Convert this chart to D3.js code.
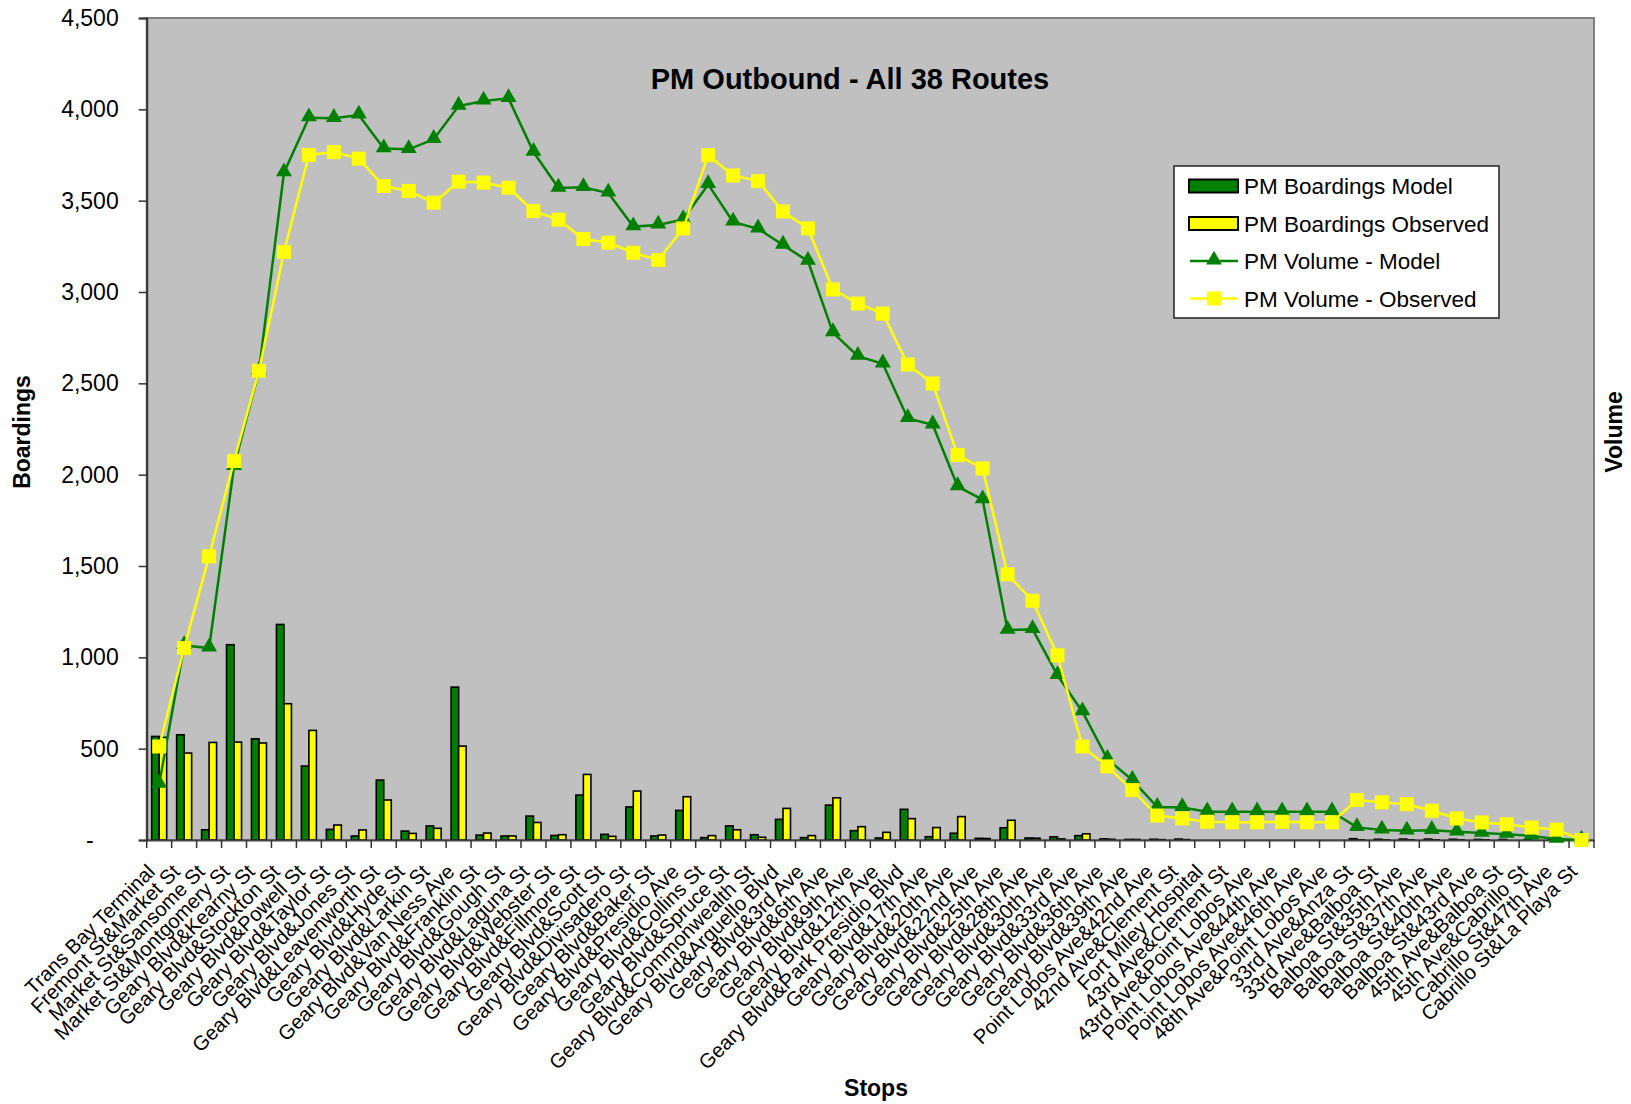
<!DOCTYPE html>
<html>
<head>
<meta charset="utf-8">
<script src="https://cdnjs.cloudflare.com/ajax/libs/d3/7.8.5/d3.min.js"></script>
<style>
  body { margin: 0; background: #fff; }
  svg { font-family: "Liberation Sans", Arial, sans-serif; }
</style>
</head>
<body>
<div id="chart"></div>
<script>
const stops = [
  'Trans Bay Terminal', 'Fremont St&Market St', 'Market St&Sansome St', 'Market St&Montgomery St',
  'Geary Blvd&Kearny St', 'Geary Blvd&Stockton St', 'Geary Blvd&Powell St', 'Geary Blvd&Taylor St',
  'Geary Blvd&Jones St', 'Geary Blvd&Leavenworth St', 'Geary Blvd&Hyde St', 'Geary Blvd&Larkin St',
  'Geary Blvd&Van Ness Ave', 'Geary Blvd&Franklin St', 'Geary Blvd&Gough St', 'Geary Blvd&Laguna St',
  'Geary Blvd&Webster St', 'Geary Blvd&Fillmore St', 'Geary Blvd&Scott St', 'Geary Blvd&Divisadero St',
  'Geary Blvd&Baker St', 'Geary Blvd&Presidio Ave', 'Geary Blvd&Collins St', 'Geary Blvd&Spruce St',
  'Geary Blvd&Commonwealth St', 'Geary Blvd&Arguello Blvd', 'Geary Blvd&3rd Ave', 'Geary Blvd&6th Ave',
  'Geary Blvd&9th Ave', 'Geary Blvd&12th Ave', 'Geary Blvd&Park Presidio Blvd', 'Geary Blvd&17th Ave',
  'Geary Blvd&20th Ave', 'Geary Blvd&22nd Ave', 'Geary Blvd&25th Ave', 'Geary Blvd&28th Ave',
  'Geary Blvd&30th Ave', 'Geary Blvd&33rd Ave', 'Geary Blvd&36th Ave', 'Geary Blvd&39th Ave',
  'Point Lobos Ave&42nd Ave', '42nd Ave&Clement St', 'Fort Miley Hospital', '43rd Ave&Clement St',
  '43rd Ave&Point Lobos Ave', 'Point Lobos Ave&44th Ave', 'Point Lobos Ave&46th Ave', '48th Ave&Point Lobos Ave',
  '33rd Ave&Anza St', '33rd Ave&Balboa St', 'Balboa St&35th Ave', 'Balboa St&37th Ave',
  'Balboa St&40th Ave', 'Balboa St&43rd Ave', '45th Ave&Balboa St', '45th Ave&Cabrillo St',
  'Cabrillo St&47th Ave', 'Cabrillo St&La Playa St'
];

const boardingsModel = [
  567, 576, 56, 1069, 554, 1180, 405, 58, 22, 328, 49, 77, 837, 27, 22, 131, 25, 246, 31, 181,
  22, 162, 13, 77, 29, 113, 13, 191, 51, 11, 168, 18, 37, 9, 67, 11, 17, 24, 6, 3,
  4, 5, 0, 0, 0, 0, 0, 0, 7, 4, 5, 5, 4, 3, 3, 2, 2, 0
];
const boardingsObserved = [
  562, 476, 534, 536, 531, 746, 600, 82, 55, 219, 36, 64, 514, 38, 22, 96, 29, 359, 20, 268,
  27, 237, 24, 56, 15, 173, 24, 231, 73, 42, 117, 68, 128, 8, 108, 10, 6, 34, 4, 3,
  2, 2, 0, 0, 0, 0, 0, 0, 1, 1, 1, 1, 1, 1, 0, 0, 0, 0
];
const volumeModel = [
  306, 1065, 1051, 2045, 2568, 3653, 3954, 3951, 3969, 3785, 3781, 3836, 4018, 4046, 4060, 3766, 3569, 3573, 3542, 3358,
  3367, 3397, 3589, 3384, 3346, 3257, 3169, 2778, 2649, 2607, 2308, 2273, 1935, 1863, 1149, 1153, 901, 702, 443, 328,
  180, 178, 155, 155, 155, 155, 155, 155, 69, 55, 50, 53, 45, 38, 32, 22, 5, 0
];
const volumeObserved = [
  512, 1051, 1553, 2075, 2569, 3219, 3750, 3766, 3730, 3580, 3553, 3489, 3604, 3599, 3571, 3443, 3396, 3290, 3270, 3215,
  3175, 3348, 3749, 3638, 3607, 3441, 3348, 3014, 2937, 2882, 2603, 2499, 2107, 2034, 1454, 1310, 1011, 512, 403, 273,
  134, 118, 100, 97, 97, 100, 97, 97, 219, 206, 196, 160, 118, 96, 86, 68, 57, 0
];
const yTicks = [0, 500, 1000, 1500, 2000, 2500, 3000, 3500, 4000, 4500];

const W = 1631, H = 1104;
const plotL = 146.7, plotR = 1594, plotT = 18, plotB = 840;
const GREEN = '#008000', YELLOW = '#FFFF00';

const svg = d3.select('#chart').append('svg')
  .attr('width', W)
  .attr('height', H);

const x = d3.scaleBand().domain(stops).range([plotL, plotR]).padding(0);
const y = d3.scaleLinear().domain([0, 4500]).range([plotB, plotT]);
const xInner = d3.scaleBand().domain(['model', 'obs']).range([-7.5, 7.5]);
const fmt = d => d === 0 ? '-' : d3.format(',')(d);
const cx = s => x(s) + x.bandwidth() / 2;

// plot area
svg.append('rect')
  .attr('x', plotL).attr('y', plotT)
  .attr('width', plotR - plotL).attr('height', plotB - plotT)
  .attr('fill', '#C0C0C0')
  .attr('stroke', '#808080').attr('stroke-width', 2);

// bars
const rows = stops.map((s, i) => ({ stop: s, model: boardingsModel[i], obs: boardingsObserved[i] }));
const groups = svg.append('g').selectAll('g')
  .data(rows)
  .enter().append('g')
  .attr('transform', d => `translate(${cx(d.stop)},0)`);

groups.selectAll('rect')
  .data(d => [{ k: 'model', v: d.model }, { k: 'obs', v: d.obs }].filter(e => e.v > 0))
  .enter().append('rect')
  .attr('x', e => xInner(e.k))
  .attr('width', xInner.bandwidth())
  .attr('y', e => y(e.v))
  .attr('height', e => plotB - y(e.v))
  .attr('fill', e => e.k === 'model' ? GREEN : YELLOW)
  .attr('stroke', '#000')
  .attr('stroke-width', 1.6);

// axes
const yAxis = svg.append('g')
  .attr('transform', `translate(${plotL},0)`)
  .call(d3.axisLeft(y).tickValues(yTicks).tickFormat(fmt).tickSize(8).tickPadding(20));
yAxis.select('.domain').attr('stroke', '#333').attr('stroke-width', 2);
yAxis.selectAll('.tick line').attr('stroke', '#333').attr('stroke-width', 1.5);
yAxis.selectAll('.tick text')
  .attr('font-size', 23)
  .attr('font-family', '"Liberation Sans", Arial, sans-serif')
  .attr('fill', '#000')
  .attr('dx', d => d === 0 ? -25 : 0);

const xAxis = svg.append('g')
  .attr('transform', `translate(0,${plotB})`)
  .call(d3.axisBottom(x).tickSize(0).tickFormat(''));
xAxis.select('.domain').attr('stroke', '#444').attr('stroke-width', 2);

// category boundary ticks
svg.append('g').selectAll('line')
  .data(stops.concat(['__end']))
  .enter().append('line')
  .attr('x1', (d, i) => i < stops.length ? x(d) : plotR)
  .attr('x2', (d, i) => i < stops.length ? x(d) : plotR)
  .attr('y1', plotB).attr('y2', plotB + 8)
  .attr('stroke', '#333').attr('stroke-width', 1.5);

// category labels
svg.append('g').selectAll('text')
  .data(stops)
  .enter().append('text')
  .attr('transform', d => `translate(${cx(d) - 3},873) rotate(-45)`)
  .attr('text-anchor', 'end')
  .attr('font-size', 20.3)
  .text(d => d);

// lines
const line = d3.line()
  .x((d, i) => cx(stops[i]))
  .y(d => y(d));

svg.append('path')
  .datum(volumeModel)
  .attr('d', line)
  .attr('fill', 'none')
  .attr('stroke', GREEN)
  .attr('stroke-width', 2.5);

const tri = d3.symbol().type(d3.symbolTriangle).size(110);
svg.append('g').selectAll('path')
  .data(volumeModel)
  .enter().append('path')
  .attr('d', tri)
  .attr('transform', (d, i) => `translate(${cx(stops[i])},${y(d) - 1})`)
  .attr('fill', GREEN);

svg.append('path')
  .datum(volumeObserved)
  .attr('d', line)
  .attr('fill', 'none')
  .attr('stroke', YELLOW)
  .attr('stroke-width', 2.5);

svg.append('g').selectAll('rect')
  .data(volumeObserved)
  .enter().append('rect')
  .attr('x', (d, i) => cx(stops[i]) - 7)
  .attr('y', d => y(d) - 7)
  .attr('width', 14).attr('height', 14)
  .attr('fill', YELLOW);

// title and axis titles
svg.append('text')
  .attr('x', 850).attr('y', 89)
  .attr('text-anchor', 'middle')
  .attr('font-size', 29).attr('font-weight', 'bold')
  .text('PM Outbound - All 38 Routes');

svg.append('text')
  .attr('transform', 'translate(30,432) rotate(-90)')
  .attr('text-anchor', 'middle')
  .attr('font-size', 23).attr('font-weight', 'bold')
  .text('Boardings');

svg.append('text')
  .attr('transform', 'translate(1622,432) rotate(-90)')
  .attr('text-anchor', 'middle')
  .attr('font-size', 23).attr('font-weight', 'bold')
  .text('Volume');

svg.append('text')
  .attr('x', 876).attr('y', 1096)
  .attr('text-anchor', 'middle')
  .attr('font-size', 23).attr('font-weight', 'bold')
  .text('Stops');

// legend
const legendItems = [
  { name: 'PM Boardings Model', kind: 'bar', color: GREEN },
  { name: 'PM Boardings Observed', kind: 'bar', color: YELLOW },
  { name: 'PM Volume - Model', kind: 'tri', color: GREEN },
  { name: 'PM Volume - Observed', kind: 'sq', color: YELLOW }
];
const legend = svg.append('g').attr('transform', 'translate(1174,166)');
legend.append('rect')
  .attr('width', 325).attr('height', 152)
  .attr('fill', '#fff')
  .attr('stroke', '#222').attr('stroke-width', 1.5);

const li = legend.selectAll('g.item')
  .data(legendItems)
  .enter().append('g')
  .attr('class', 'item')
  .attr('transform', (d, i) => `translate(0,${20 + i * 37.5})`);

li.filter(d => d.kind === 'bar').append('rect')
  .attr('x', 15).attr('y', -6.5)
  .attr('width', 49).attr('height', 13)
  .attr('fill', d => d.color)
  .attr('stroke', '#000').attr('stroke-width', 2);

li.filter(d => d.kind !== 'bar').append('line')
  .attr('x1', 16).attr('x2', 64)
  .attr('stroke', d => d.color).attr('stroke-width', 2.5);

li.filter(d => d.kind === 'tri').append('path')
  .attr('d', tri)
  .attr('transform', 'translate(40,-1)')
  .attr('fill', GREEN);

li.filter(d => d.kind === 'sq').append('rect')
  .attr('x', 33).attr('y', -7)
  .attr('width', 14).attr('height', 14)
  .attr('fill', YELLOW);

li.append('text')
  .attr('x', 70).attr('y', 8)
  .attr('font-size', 22.5)
  .text(d => d.name);
</script>
</body>
</html>
